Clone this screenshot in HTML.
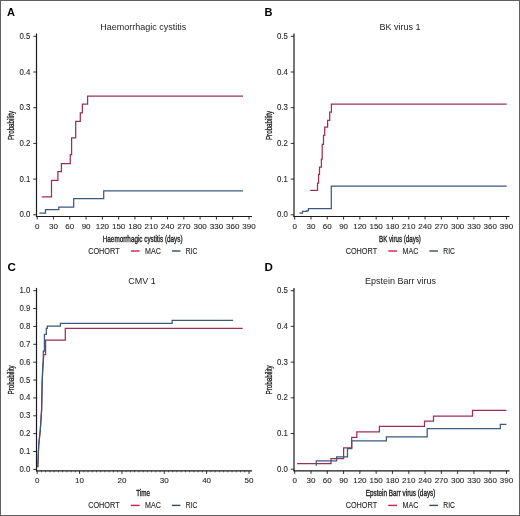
<!DOCTYPE html>
<html><head><meta charset="utf-8"><style>
html,body{margin:0;padding:0;background:#fff;}
svg{display:block;will-change:transform;}
text{font-family:"Liberation Sans", sans-serif;}
</style></head><body>
<svg width="520" height="516" viewBox="0 0 520 516">
<rect x="0" y="0" width="520" height="516" fill="#fff"/>
<text x="7" y="16" font-size="11" font-weight="bold" fill="#000">A</text>
<text x="143.3" y="30.1" font-size="9.5" text-anchor="middle" textLength="86" lengthAdjust="spacingAndGlyphs" fill="#1e1e1e">Haemorrhagic cystitis</text>
<line x1="36.5" y1="33.5" x2="36.5" y2="216.9" stroke="#1a1a1a" stroke-width="1.2"/>
<line x1="36" y1="216.5" x2="252" y2="216.5" stroke="#1a1a1a" stroke-width="1.2"/>
<line x1="33.3" y1="214.8" x2="36.5" y2="214.8" stroke="#1a1a1a" stroke-width="0.9"/>
<text x="30.4" y="217.35" font-size="8.4" text-anchor="end" textLength="10.9" lengthAdjust="spacingAndGlyphs" fill="#262626" stroke="#262626" stroke-width="0.1">0.0</text>
<line x1="33.3" y1="179.1" x2="36.5" y2="179.1" stroke="#1a1a1a" stroke-width="0.9"/>
<text x="30.4" y="181.65" font-size="8.4" text-anchor="end" textLength="10.9" lengthAdjust="spacingAndGlyphs" fill="#262626" stroke="#262626" stroke-width="0.1">0.1</text>
<line x1="33.3" y1="143.4" x2="36.5" y2="143.4" stroke="#1a1a1a" stroke-width="0.9"/>
<text x="30.4" y="145.95" font-size="8.4" text-anchor="end" textLength="10.9" lengthAdjust="spacingAndGlyphs" fill="#262626" stroke="#262626" stroke-width="0.1">0.2</text>
<line x1="33.3" y1="107.7" x2="36.5" y2="107.7" stroke="#1a1a1a" stroke-width="0.9"/>
<text x="30.4" y="110.25" font-size="8.4" text-anchor="end" textLength="10.9" lengthAdjust="spacingAndGlyphs" fill="#262626" stroke="#262626" stroke-width="0.1">0.3</text>
<line x1="33.3" y1="72" x2="36.5" y2="72" stroke="#1a1a1a" stroke-width="0.9"/>
<text x="30.4" y="74.55" font-size="8.4" text-anchor="end" textLength="10.9" lengthAdjust="spacingAndGlyphs" fill="#262626" stroke="#262626" stroke-width="0.1">0.4</text>
<line x1="33.3" y1="36.3" x2="36.5" y2="36.3" stroke="#1a1a1a" stroke-width="0.9"/>
<text x="30.4" y="38.85" font-size="8.4" text-anchor="end" textLength="10.9" lengthAdjust="spacingAndGlyphs" fill="#262626" stroke="#262626" stroke-width="0.1">0.5</text>
<line x1="37.2" y1="216.5" x2="37.2" y2="219.5" stroke="#1a1a1a" stroke-width="0.9"/>
<text x="37.2" y="229" font-size="8" text-anchor="middle" fill="#262626" stroke="#262626" stroke-width="0.1">0</text>
<line x1="53.49" y1="216.5" x2="53.49" y2="219.5" stroke="#1a1a1a" stroke-width="0.9"/>
<text x="53.49" y="229" font-size="8" text-anchor="middle" fill="#262626" stroke="#262626" stroke-width="0.1">30</text>
<line x1="69.78" y1="216.5" x2="69.78" y2="219.5" stroke="#1a1a1a" stroke-width="0.9"/>
<text x="69.78" y="229" font-size="8" text-anchor="middle" fill="#262626" stroke="#262626" stroke-width="0.1">60</text>
<line x1="86.08" y1="216.5" x2="86.08" y2="219.5" stroke="#1a1a1a" stroke-width="0.9"/>
<text x="86.08" y="229" font-size="8" text-anchor="middle" fill="#262626" stroke="#262626" stroke-width="0.1">90</text>
<line x1="102.37" y1="216.5" x2="102.37" y2="219.5" stroke="#1a1a1a" stroke-width="0.9"/>
<text x="102.37" y="229" font-size="8" text-anchor="middle" fill="#262626" stroke="#262626" stroke-width="0.1">120</text>
<line x1="118.66" y1="216.5" x2="118.66" y2="219.5" stroke="#1a1a1a" stroke-width="0.9"/>
<text x="118.66" y="229" font-size="8" text-anchor="middle" fill="#262626" stroke="#262626" stroke-width="0.1">150</text>
<line x1="134.95" y1="216.5" x2="134.95" y2="219.5" stroke="#1a1a1a" stroke-width="0.9"/>
<text x="134.95" y="229" font-size="8" text-anchor="middle" fill="#262626" stroke="#262626" stroke-width="0.1">180</text>
<line x1="151.25" y1="216.5" x2="151.25" y2="219.5" stroke="#1a1a1a" stroke-width="0.9"/>
<text x="151.25" y="229" font-size="8" text-anchor="middle" fill="#262626" stroke="#262626" stroke-width="0.1">210</text>
<line x1="167.54" y1="216.5" x2="167.54" y2="219.5" stroke="#1a1a1a" stroke-width="0.9"/>
<text x="167.54" y="229" font-size="8" text-anchor="middle" fill="#262626" stroke="#262626" stroke-width="0.1">240</text>
<line x1="183.83" y1="216.5" x2="183.83" y2="219.5" stroke="#1a1a1a" stroke-width="0.9"/>
<text x="183.83" y="229" font-size="8" text-anchor="middle" fill="#262626" stroke="#262626" stroke-width="0.1">270</text>
<line x1="200.12" y1="216.5" x2="200.12" y2="219.5" stroke="#1a1a1a" stroke-width="0.9"/>
<text x="200.12" y="229" font-size="8" text-anchor="middle" fill="#262626" stroke="#262626" stroke-width="0.1">300</text>
<line x1="216.42" y1="216.5" x2="216.42" y2="219.5" stroke="#1a1a1a" stroke-width="0.9"/>
<text x="216.42" y="229" font-size="8" text-anchor="middle" fill="#262626" stroke="#262626" stroke-width="0.1">330</text>
<line x1="232.71" y1="216.5" x2="232.71" y2="219.5" stroke="#1a1a1a" stroke-width="0.9"/>
<text x="232.71" y="229" font-size="8" text-anchor="middle" fill="#262626" stroke="#262626" stroke-width="0.1">360</text>
<line x1="249" y1="216.5" x2="249" y2="219.5" stroke="#1a1a1a" stroke-width="0.9"/>
<text x="249" y="229" font-size="8" text-anchor="middle" fill="#262626" stroke="#262626" stroke-width="0.1">390</text>
<text x="102.8" y="241.7" font-size="8.6" textLength="79.7" lengthAdjust="spacingAndGlyphs" fill="#222" stroke="#222" stroke-width="0.35">Haemorrhagic cystitis (days)</text>
<text transform="translate(14.2,125.5) rotate(-90)" x="-14.55" y="0" font-size="8.4" textLength="29.1" lengthAdjust="spacingAndGlyphs" fill="#222" stroke="#222" stroke-width="0.3">Probability</text>
<text x="88.2" y="253.85" font-size="8.6" textLength="31.4" lengthAdjust="spacingAndGlyphs" fill="#262626" stroke="#262626" stroke-width="0.12">COHORT</text>
<line x1="130.8" y1="251" x2="139.6" y2="251" stroke="#c4224f" stroke-width="1.4"/>
<text x="145" y="253.85" font-size="8.6" textLength="15.8" lengthAdjust="spacingAndGlyphs" fill="#262626" stroke="#262626" stroke-width="0.12">MAC</text>
<line x1="171.9" y1="251" x2="180.4" y2="251" stroke="#3a4a60" stroke-width="1.4"/>
<text x="185.8" y="253.85" font-size="8.6" textLength="11.6" lengthAdjust="spacingAndGlyphs" fill="#262626" stroke="#262626" stroke-width="0.12">RIC</text>
<text x="264.5" y="16" font-size="11" font-weight="bold" fill="#000">B</text>
<text x="400" y="30.1" font-size="9.5" text-anchor="middle" textLength="41" lengthAdjust="spacingAndGlyphs" fill="#1e1e1e">BK virus 1</text>
<line x1="294" y1="33.5" x2="294" y2="216.9" stroke="#1a1a1a" stroke-width="1.2"/>
<line x1="293.5" y1="216.5" x2="509.5" y2="216.5" stroke="#1a1a1a" stroke-width="1.2"/>
<line x1="290.8" y1="214.8" x2="294" y2="214.8" stroke="#1a1a1a" stroke-width="0.9"/>
<text x="287.9" y="217.35" font-size="8.4" text-anchor="end" textLength="10.9" lengthAdjust="spacingAndGlyphs" fill="#262626" stroke="#262626" stroke-width="0.1">0.0</text>
<line x1="290.8" y1="179.1" x2="294" y2="179.1" stroke="#1a1a1a" stroke-width="0.9"/>
<text x="287.9" y="181.65" font-size="8.4" text-anchor="end" textLength="10.9" lengthAdjust="spacingAndGlyphs" fill="#262626" stroke="#262626" stroke-width="0.1">0.1</text>
<line x1="290.8" y1="143.4" x2="294" y2="143.4" stroke="#1a1a1a" stroke-width="0.9"/>
<text x="287.9" y="145.95" font-size="8.4" text-anchor="end" textLength="10.9" lengthAdjust="spacingAndGlyphs" fill="#262626" stroke="#262626" stroke-width="0.1">0.2</text>
<line x1="290.8" y1="107.7" x2="294" y2="107.7" stroke="#1a1a1a" stroke-width="0.9"/>
<text x="287.9" y="110.25" font-size="8.4" text-anchor="end" textLength="10.9" lengthAdjust="spacingAndGlyphs" fill="#262626" stroke="#262626" stroke-width="0.1">0.3</text>
<line x1="290.8" y1="72" x2="294" y2="72" stroke="#1a1a1a" stroke-width="0.9"/>
<text x="287.9" y="74.55" font-size="8.4" text-anchor="end" textLength="10.9" lengthAdjust="spacingAndGlyphs" fill="#262626" stroke="#262626" stroke-width="0.1">0.4</text>
<line x1="290.8" y1="36.3" x2="294" y2="36.3" stroke="#1a1a1a" stroke-width="0.9"/>
<text x="287.9" y="38.85" font-size="8.4" text-anchor="end" textLength="10.9" lengthAdjust="spacingAndGlyphs" fill="#262626" stroke="#262626" stroke-width="0.1">0.5</text>
<line x1="294.7" y1="216.5" x2="294.7" y2="219.5" stroke="#1a1a1a" stroke-width="0.9"/>
<text x="294.7" y="229" font-size="8" text-anchor="middle" fill="#262626" stroke="#262626" stroke-width="0.1">0</text>
<line x1="310.99" y1="216.5" x2="310.99" y2="219.5" stroke="#1a1a1a" stroke-width="0.9"/>
<text x="310.99" y="229" font-size="8" text-anchor="middle" fill="#262626" stroke="#262626" stroke-width="0.1">30</text>
<line x1="327.28" y1="216.5" x2="327.28" y2="219.5" stroke="#1a1a1a" stroke-width="0.9"/>
<text x="327.28" y="229" font-size="8" text-anchor="middle" fill="#262626" stroke="#262626" stroke-width="0.1">60</text>
<line x1="343.58" y1="216.5" x2="343.58" y2="219.5" stroke="#1a1a1a" stroke-width="0.9"/>
<text x="343.58" y="229" font-size="8" text-anchor="middle" fill="#262626" stroke="#262626" stroke-width="0.1">90</text>
<line x1="359.87" y1="216.5" x2="359.87" y2="219.5" stroke="#1a1a1a" stroke-width="0.9"/>
<text x="359.87" y="229" font-size="8" text-anchor="middle" fill="#262626" stroke="#262626" stroke-width="0.1">120</text>
<line x1="376.16" y1="216.5" x2="376.16" y2="219.5" stroke="#1a1a1a" stroke-width="0.9"/>
<text x="376.16" y="229" font-size="8" text-anchor="middle" fill="#262626" stroke="#262626" stroke-width="0.1">150</text>
<line x1="392.45" y1="216.5" x2="392.45" y2="219.5" stroke="#1a1a1a" stroke-width="0.9"/>
<text x="392.45" y="229" font-size="8" text-anchor="middle" fill="#262626" stroke="#262626" stroke-width="0.1">180</text>
<line x1="408.75" y1="216.5" x2="408.75" y2="219.5" stroke="#1a1a1a" stroke-width="0.9"/>
<text x="408.75" y="229" font-size="8" text-anchor="middle" fill="#262626" stroke="#262626" stroke-width="0.1">210</text>
<line x1="425.04" y1="216.5" x2="425.04" y2="219.5" stroke="#1a1a1a" stroke-width="0.9"/>
<text x="425.04" y="229" font-size="8" text-anchor="middle" fill="#262626" stroke="#262626" stroke-width="0.1">240</text>
<line x1="441.33" y1="216.5" x2="441.33" y2="219.5" stroke="#1a1a1a" stroke-width="0.9"/>
<text x="441.33" y="229" font-size="8" text-anchor="middle" fill="#262626" stroke="#262626" stroke-width="0.1">270</text>
<line x1="457.62" y1="216.5" x2="457.62" y2="219.5" stroke="#1a1a1a" stroke-width="0.9"/>
<text x="457.62" y="229" font-size="8" text-anchor="middle" fill="#262626" stroke="#262626" stroke-width="0.1">300</text>
<line x1="473.92" y1="216.5" x2="473.92" y2="219.5" stroke="#1a1a1a" stroke-width="0.9"/>
<text x="473.92" y="229" font-size="8" text-anchor="middle" fill="#262626" stroke="#262626" stroke-width="0.1">330</text>
<line x1="490.21" y1="216.5" x2="490.21" y2="219.5" stroke="#1a1a1a" stroke-width="0.9"/>
<text x="490.21" y="229" font-size="8" text-anchor="middle" fill="#262626" stroke="#262626" stroke-width="0.1">360</text>
<line x1="506.5" y1="216.5" x2="506.5" y2="219.5" stroke="#1a1a1a" stroke-width="0.9"/>
<text x="506.5" y="229" font-size="8" text-anchor="middle" fill="#262626" stroke="#262626" stroke-width="0.1">390</text>
<text x="379.1" y="241.7" font-size="8.6" textLength="41.8" lengthAdjust="spacingAndGlyphs" fill="#222" stroke="#222" stroke-width="0.35">BK virus (days)</text>
<text transform="translate(271.7,125.5) rotate(-90)" x="-14.55" y="0" font-size="8.4" textLength="29.1" lengthAdjust="spacingAndGlyphs" fill="#222" stroke="#222" stroke-width="0.3">Probability</text>
<text x="345.7" y="253.85" font-size="8.6" textLength="31.4" lengthAdjust="spacingAndGlyphs" fill="#262626" stroke="#262626" stroke-width="0.12">COHORT</text>
<line x1="388.3" y1="251" x2="397.1" y2="251" stroke="#c4224f" stroke-width="1.4"/>
<text x="402.5" y="253.85" font-size="8.6" textLength="15.8" lengthAdjust="spacingAndGlyphs" fill="#262626" stroke="#262626" stroke-width="0.12">MAC</text>
<line x1="429.4" y1="251" x2="437.9" y2="251" stroke="#3a4a60" stroke-width="1.4"/>
<text x="443.3" y="253.85" font-size="8.6" textLength="11.6" lengthAdjust="spacingAndGlyphs" fill="#262626" stroke="#262626" stroke-width="0.12">RIC</text>
<text x="7.4" y="270.9" font-size="11.6" font-weight="bold" fill="#000">C</text>
<text x="142" y="284.2" font-size="9.5" text-anchor="middle" textLength="27.5" lengthAdjust="spacingAndGlyphs" fill="#1e1e1e">CMV 1</text>
<line x1="36.5" y1="287.9" x2="36.5" y2="471.3" stroke="#1a1a1a" stroke-width="1.2"/>
<line x1="36" y1="470.9" x2="252" y2="470.9" stroke="#1a1a1a" stroke-width="1.2"/>
<line x1="33.3" y1="469.4" x2="36.5" y2="469.4" stroke="#1a1a1a" stroke-width="0.9"/>
<text x="30.4" y="471.95" font-size="8.4" text-anchor="end" textLength="10.9" lengthAdjust="spacingAndGlyphs" fill="#262626" stroke="#262626" stroke-width="0.1">0.0</text>
<line x1="33.3" y1="451.53" x2="36.5" y2="451.53" stroke="#1a1a1a" stroke-width="0.9"/>
<text x="30.4" y="454.08" font-size="8.4" text-anchor="end" textLength="10.9" lengthAdjust="spacingAndGlyphs" fill="#262626" stroke="#262626" stroke-width="0.1">0.1</text>
<line x1="33.3" y1="433.66" x2="36.5" y2="433.66" stroke="#1a1a1a" stroke-width="0.9"/>
<text x="30.4" y="436.21" font-size="8.4" text-anchor="end" textLength="10.9" lengthAdjust="spacingAndGlyphs" fill="#262626" stroke="#262626" stroke-width="0.1">0.2</text>
<line x1="33.3" y1="415.79" x2="36.5" y2="415.79" stroke="#1a1a1a" stroke-width="0.9"/>
<text x="30.4" y="418.34" font-size="8.4" text-anchor="end" textLength="10.9" lengthAdjust="spacingAndGlyphs" fill="#262626" stroke="#262626" stroke-width="0.1">0.3</text>
<line x1="33.3" y1="397.92" x2="36.5" y2="397.92" stroke="#1a1a1a" stroke-width="0.9"/>
<text x="30.4" y="400.47" font-size="8.4" text-anchor="end" textLength="10.9" lengthAdjust="spacingAndGlyphs" fill="#262626" stroke="#262626" stroke-width="0.1">0.4</text>
<line x1="33.3" y1="380.05" x2="36.5" y2="380.05" stroke="#1a1a1a" stroke-width="0.9"/>
<text x="30.4" y="382.6" font-size="8.4" text-anchor="end" textLength="10.9" lengthAdjust="spacingAndGlyphs" fill="#262626" stroke="#262626" stroke-width="0.1">0.5</text>
<line x1="33.3" y1="362.18" x2="36.5" y2="362.18" stroke="#1a1a1a" stroke-width="0.9"/>
<text x="30.4" y="364.73" font-size="8.4" text-anchor="end" textLength="10.9" lengthAdjust="spacingAndGlyphs" fill="#262626" stroke="#262626" stroke-width="0.1">0.6</text>
<line x1="33.3" y1="344.31" x2="36.5" y2="344.31" stroke="#1a1a1a" stroke-width="0.9"/>
<text x="30.4" y="346.86" font-size="8.4" text-anchor="end" textLength="10.9" lengthAdjust="spacingAndGlyphs" fill="#262626" stroke="#262626" stroke-width="0.1">0.7</text>
<line x1="33.3" y1="326.44" x2="36.5" y2="326.44" stroke="#1a1a1a" stroke-width="0.9"/>
<text x="30.4" y="328.99" font-size="8.4" text-anchor="end" textLength="10.9" lengthAdjust="spacingAndGlyphs" fill="#262626" stroke="#262626" stroke-width="0.1">0.8</text>
<line x1="33.3" y1="308.57" x2="36.5" y2="308.57" stroke="#1a1a1a" stroke-width="0.9"/>
<text x="30.4" y="311.12" font-size="8.4" text-anchor="end" textLength="10.9" lengthAdjust="spacingAndGlyphs" fill="#262626" stroke="#262626" stroke-width="0.1">0.9</text>
<line x1="33.3" y1="290.7" x2="36.5" y2="290.7" stroke="#1a1a1a" stroke-width="0.9"/>
<text x="30.4" y="293.25" font-size="8.4" text-anchor="end" textLength="10.9" lengthAdjust="spacingAndGlyphs" fill="#262626" stroke="#262626" stroke-width="0.1">1.0</text>
<line x1="37.2" y1="470.9" x2="37.2" y2="473.9" stroke="#1a1a1a" stroke-width="0.9"/>
<text x="37.2" y="483.4" font-size="8" text-anchor="middle" fill="#262626" stroke="#262626" stroke-width="0.1">0</text>
<line x1="79.56" y1="470.9" x2="79.56" y2="473.9" stroke="#1a1a1a" stroke-width="0.9"/>
<text x="79.56" y="483.4" font-size="8" text-anchor="middle" fill="#262626" stroke="#262626" stroke-width="0.1">10</text>
<line x1="121.92" y1="470.9" x2="121.92" y2="473.9" stroke="#1a1a1a" stroke-width="0.9"/>
<text x="121.92" y="483.4" font-size="8" text-anchor="middle" fill="#262626" stroke="#262626" stroke-width="0.1">20</text>
<line x1="164.28" y1="470.9" x2="164.28" y2="473.9" stroke="#1a1a1a" stroke-width="0.9"/>
<text x="164.28" y="483.4" font-size="8" text-anchor="middle" fill="#262626" stroke="#262626" stroke-width="0.1">30</text>
<line x1="206.64" y1="470.9" x2="206.64" y2="473.9" stroke="#1a1a1a" stroke-width="0.9"/>
<text x="206.64" y="483.4" font-size="8" text-anchor="middle" fill="#262626" stroke="#262626" stroke-width="0.1">40</text>
<line x1="249" y1="470.9" x2="249" y2="473.9" stroke="#1a1a1a" stroke-width="0.9"/>
<text x="249" y="483.4" font-size="8" text-anchor="middle" fill="#262626" stroke="#262626" stroke-width="0.1">50</text>
<line x1="41.44" y1="470.9" x2="41.44" y2="472.4" stroke="#1a1a1a" stroke-width="0.6"/>
<line x1="45.67" y1="470.9" x2="45.67" y2="472.4" stroke="#1a1a1a" stroke-width="0.6"/>
<line x1="49.91" y1="470.9" x2="49.91" y2="472.4" stroke="#1a1a1a" stroke-width="0.6"/>
<line x1="54.14" y1="470.9" x2="54.14" y2="472.4" stroke="#1a1a1a" stroke-width="0.6"/>
<line x1="58.38" y1="470.9" x2="58.38" y2="472.4" stroke="#1a1a1a" stroke-width="0.6"/>
<line x1="62.62" y1="470.9" x2="62.62" y2="472.4" stroke="#1a1a1a" stroke-width="0.6"/>
<line x1="66.85" y1="470.9" x2="66.85" y2="472.4" stroke="#1a1a1a" stroke-width="0.6"/>
<line x1="71.09" y1="470.9" x2="71.09" y2="472.4" stroke="#1a1a1a" stroke-width="0.6"/>
<line x1="75.32" y1="470.9" x2="75.32" y2="472.4" stroke="#1a1a1a" stroke-width="0.6"/>
<line x1="83.8" y1="470.9" x2="83.8" y2="472.4" stroke="#1a1a1a" stroke-width="0.6"/>
<line x1="88.03" y1="470.9" x2="88.03" y2="472.4" stroke="#1a1a1a" stroke-width="0.6"/>
<line x1="92.27" y1="470.9" x2="92.27" y2="472.4" stroke="#1a1a1a" stroke-width="0.6"/>
<line x1="96.5" y1="470.9" x2="96.5" y2="472.4" stroke="#1a1a1a" stroke-width="0.6"/>
<line x1="100.74" y1="470.9" x2="100.74" y2="472.4" stroke="#1a1a1a" stroke-width="0.6"/>
<line x1="104.98" y1="470.9" x2="104.98" y2="472.4" stroke="#1a1a1a" stroke-width="0.6"/>
<line x1="109.21" y1="470.9" x2="109.21" y2="472.4" stroke="#1a1a1a" stroke-width="0.6"/>
<line x1="113.45" y1="470.9" x2="113.45" y2="472.4" stroke="#1a1a1a" stroke-width="0.6"/>
<line x1="117.68" y1="470.9" x2="117.68" y2="472.4" stroke="#1a1a1a" stroke-width="0.6"/>
<line x1="126.16" y1="470.9" x2="126.16" y2="472.4" stroke="#1a1a1a" stroke-width="0.6"/>
<line x1="130.39" y1="470.9" x2="130.39" y2="472.4" stroke="#1a1a1a" stroke-width="0.6"/>
<line x1="134.63" y1="470.9" x2="134.63" y2="472.4" stroke="#1a1a1a" stroke-width="0.6"/>
<line x1="138.86" y1="470.9" x2="138.86" y2="472.4" stroke="#1a1a1a" stroke-width="0.6"/>
<line x1="143.1" y1="470.9" x2="143.1" y2="472.4" stroke="#1a1a1a" stroke-width="0.6"/>
<line x1="147.34" y1="470.9" x2="147.34" y2="472.4" stroke="#1a1a1a" stroke-width="0.6"/>
<line x1="151.57" y1="470.9" x2="151.57" y2="472.4" stroke="#1a1a1a" stroke-width="0.6"/>
<line x1="155.81" y1="470.9" x2="155.81" y2="472.4" stroke="#1a1a1a" stroke-width="0.6"/>
<line x1="160.04" y1="470.9" x2="160.04" y2="472.4" stroke="#1a1a1a" stroke-width="0.6"/>
<line x1="168.52" y1="470.9" x2="168.52" y2="472.4" stroke="#1a1a1a" stroke-width="0.6"/>
<line x1="172.75" y1="470.9" x2="172.75" y2="472.4" stroke="#1a1a1a" stroke-width="0.6"/>
<line x1="176.99" y1="470.9" x2="176.99" y2="472.4" stroke="#1a1a1a" stroke-width="0.6"/>
<line x1="181.22" y1="470.9" x2="181.22" y2="472.4" stroke="#1a1a1a" stroke-width="0.6"/>
<line x1="185.46" y1="470.9" x2="185.46" y2="472.4" stroke="#1a1a1a" stroke-width="0.6"/>
<line x1="189.7" y1="470.9" x2="189.7" y2="472.4" stroke="#1a1a1a" stroke-width="0.6"/>
<line x1="193.93" y1="470.9" x2="193.93" y2="472.4" stroke="#1a1a1a" stroke-width="0.6"/>
<line x1="198.17" y1="470.9" x2="198.17" y2="472.4" stroke="#1a1a1a" stroke-width="0.6"/>
<line x1="202.4" y1="470.9" x2="202.4" y2="472.4" stroke="#1a1a1a" stroke-width="0.6"/>
<line x1="210.88" y1="470.9" x2="210.88" y2="472.4" stroke="#1a1a1a" stroke-width="0.6"/>
<line x1="215.11" y1="470.9" x2="215.11" y2="472.4" stroke="#1a1a1a" stroke-width="0.6"/>
<line x1="219.35" y1="470.9" x2="219.35" y2="472.4" stroke="#1a1a1a" stroke-width="0.6"/>
<line x1="223.58" y1="470.9" x2="223.58" y2="472.4" stroke="#1a1a1a" stroke-width="0.6"/>
<line x1="227.82" y1="470.9" x2="227.82" y2="472.4" stroke="#1a1a1a" stroke-width="0.6"/>
<line x1="232.06" y1="470.9" x2="232.06" y2="472.4" stroke="#1a1a1a" stroke-width="0.6"/>
<line x1="236.29" y1="470.9" x2="236.29" y2="472.4" stroke="#1a1a1a" stroke-width="0.6"/>
<line x1="240.53" y1="470.9" x2="240.53" y2="472.4" stroke="#1a1a1a" stroke-width="0.6"/>
<line x1="244.76" y1="470.9" x2="244.76" y2="472.4" stroke="#1a1a1a" stroke-width="0.6"/>
<text x="136.2" y="496.1" font-size="8.6" textLength="13.7" lengthAdjust="spacingAndGlyphs" fill="#222" stroke="#222" stroke-width="0.35">Time</text>
<text transform="translate(14.2,379.9) rotate(-90)" x="-14.55" y="0" font-size="8.4" textLength="29.1" lengthAdjust="spacingAndGlyphs" fill="#222" stroke="#222" stroke-width="0.3">Probability</text>
<text x="88.2" y="508.25" font-size="8.6" textLength="31.4" lengthAdjust="spacingAndGlyphs" fill="#262626" stroke="#262626" stroke-width="0.12">COHORT</text>
<line x1="130.8" y1="505.4" x2="139.6" y2="505.4" stroke="#c4224f" stroke-width="1.4"/>
<text x="145" y="508.25" font-size="8.6" textLength="15.8" lengthAdjust="spacingAndGlyphs" fill="#262626" stroke="#262626" stroke-width="0.12">MAC</text>
<line x1="171.9" y1="505.4" x2="180.4" y2="505.4" stroke="#3a4a60" stroke-width="1.4"/>
<text x="185.8" y="508.25" font-size="8.6" textLength="11.6" lengthAdjust="spacingAndGlyphs" fill="#262626" stroke="#262626" stroke-width="0.12">RIC</text>
<text x="264.5" y="270.9" font-size="11.6" font-weight="bold" fill="#000">D</text>
<text x="400.4" y="284.2" font-size="9.5" text-anchor="middle" textLength="71" lengthAdjust="spacingAndGlyphs" fill="#1e1e1e">Epstein Barr virus</text>
<line x1="294" y1="287.9" x2="294" y2="471.3" stroke="#1a1a1a" stroke-width="1.2"/>
<line x1="293.5" y1="470.9" x2="509.5" y2="470.9" stroke="#1a1a1a" stroke-width="1.2"/>
<line x1="290.8" y1="469.2" x2="294" y2="469.2" stroke="#1a1a1a" stroke-width="0.9"/>
<text x="287.9" y="471.75" font-size="8.4" text-anchor="end" textLength="10.9" lengthAdjust="spacingAndGlyphs" fill="#262626" stroke="#262626" stroke-width="0.1">0.0</text>
<line x1="290.8" y1="433.5" x2="294" y2="433.5" stroke="#1a1a1a" stroke-width="0.9"/>
<text x="287.9" y="436.05" font-size="8.4" text-anchor="end" textLength="10.9" lengthAdjust="spacingAndGlyphs" fill="#262626" stroke="#262626" stroke-width="0.1">0.1</text>
<line x1="290.8" y1="397.8" x2="294" y2="397.8" stroke="#1a1a1a" stroke-width="0.9"/>
<text x="287.9" y="400.35" font-size="8.4" text-anchor="end" textLength="10.9" lengthAdjust="spacingAndGlyphs" fill="#262626" stroke="#262626" stroke-width="0.1">0.2</text>
<line x1="290.8" y1="362.1" x2="294" y2="362.1" stroke="#1a1a1a" stroke-width="0.9"/>
<text x="287.9" y="364.65" font-size="8.4" text-anchor="end" textLength="10.9" lengthAdjust="spacingAndGlyphs" fill="#262626" stroke="#262626" stroke-width="0.1">0.3</text>
<line x1="290.8" y1="326.4" x2="294" y2="326.4" stroke="#1a1a1a" stroke-width="0.9"/>
<text x="287.9" y="328.95" font-size="8.4" text-anchor="end" textLength="10.9" lengthAdjust="spacingAndGlyphs" fill="#262626" stroke="#262626" stroke-width="0.1">0.4</text>
<line x1="290.8" y1="290.7" x2="294" y2="290.7" stroke="#1a1a1a" stroke-width="0.9"/>
<text x="287.9" y="293.25" font-size="8.4" text-anchor="end" textLength="10.9" lengthAdjust="spacingAndGlyphs" fill="#262626" stroke="#262626" stroke-width="0.1">0.5</text>
<line x1="294.7" y1="470.9" x2="294.7" y2="473.9" stroke="#1a1a1a" stroke-width="0.9"/>
<text x="294.7" y="483.4" font-size="8" text-anchor="middle" fill="#262626" stroke="#262626" stroke-width="0.1">0</text>
<line x1="310.99" y1="470.9" x2="310.99" y2="473.9" stroke="#1a1a1a" stroke-width="0.9"/>
<text x="310.99" y="483.4" font-size="8" text-anchor="middle" fill="#262626" stroke="#262626" stroke-width="0.1">30</text>
<line x1="327.28" y1="470.9" x2="327.28" y2="473.9" stroke="#1a1a1a" stroke-width="0.9"/>
<text x="327.28" y="483.4" font-size="8" text-anchor="middle" fill="#262626" stroke="#262626" stroke-width="0.1">60</text>
<line x1="343.58" y1="470.9" x2="343.58" y2="473.9" stroke="#1a1a1a" stroke-width="0.9"/>
<text x="343.58" y="483.4" font-size="8" text-anchor="middle" fill="#262626" stroke="#262626" stroke-width="0.1">90</text>
<line x1="359.87" y1="470.9" x2="359.87" y2="473.9" stroke="#1a1a1a" stroke-width="0.9"/>
<text x="359.87" y="483.4" font-size="8" text-anchor="middle" fill="#262626" stroke="#262626" stroke-width="0.1">120</text>
<line x1="376.16" y1="470.9" x2="376.16" y2="473.9" stroke="#1a1a1a" stroke-width="0.9"/>
<text x="376.16" y="483.4" font-size="8" text-anchor="middle" fill="#262626" stroke="#262626" stroke-width="0.1">150</text>
<line x1="392.45" y1="470.9" x2="392.45" y2="473.9" stroke="#1a1a1a" stroke-width="0.9"/>
<text x="392.45" y="483.4" font-size="8" text-anchor="middle" fill="#262626" stroke="#262626" stroke-width="0.1">180</text>
<line x1="408.75" y1="470.9" x2="408.75" y2="473.9" stroke="#1a1a1a" stroke-width="0.9"/>
<text x="408.75" y="483.4" font-size="8" text-anchor="middle" fill="#262626" stroke="#262626" stroke-width="0.1">210</text>
<line x1="425.04" y1="470.9" x2="425.04" y2="473.9" stroke="#1a1a1a" stroke-width="0.9"/>
<text x="425.04" y="483.4" font-size="8" text-anchor="middle" fill="#262626" stroke="#262626" stroke-width="0.1">240</text>
<line x1="441.33" y1="470.9" x2="441.33" y2="473.9" stroke="#1a1a1a" stroke-width="0.9"/>
<text x="441.33" y="483.4" font-size="8" text-anchor="middle" fill="#262626" stroke="#262626" stroke-width="0.1">270</text>
<line x1="457.62" y1="470.9" x2="457.62" y2="473.9" stroke="#1a1a1a" stroke-width="0.9"/>
<text x="457.62" y="483.4" font-size="8" text-anchor="middle" fill="#262626" stroke="#262626" stroke-width="0.1">300</text>
<line x1="473.92" y1="470.9" x2="473.92" y2="473.9" stroke="#1a1a1a" stroke-width="0.9"/>
<text x="473.92" y="483.4" font-size="8" text-anchor="middle" fill="#262626" stroke="#262626" stroke-width="0.1">330</text>
<line x1="490.21" y1="470.9" x2="490.21" y2="473.9" stroke="#1a1a1a" stroke-width="0.9"/>
<text x="490.21" y="483.4" font-size="8" text-anchor="middle" fill="#262626" stroke="#262626" stroke-width="0.1">360</text>
<line x1="506.5" y1="470.9" x2="506.5" y2="473.9" stroke="#1a1a1a" stroke-width="0.9"/>
<text x="506.5" y="483.4" font-size="8" text-anchor="middle" fill="#262626" stroke="#262626" stroke-width="0.1">390</text>
<text x="365.8" y="496.1" font-size="8.6" textLength="69.6" lengthAdjust="spacingAndGlyphs" fill="#222" stroke="#222" stroke-width="0.35">Epstein Barr virus (days)</text>
<text transform="translate(271.7,379.9) rotate(-90)" x="-14.55" y="0" font-size="8.4" textLength="29.1" lengthAdjust="spacingAndGlyphs" fill="#222" stroke="#222" stroke-width="0.3">Probability</text>
<text x="345.7" y="508.25" font-size="8.6" textLength="31.4" lengthAdjust="spacingAndGlyphs" fill="#262626" stroke="#262626" stroke-width="0.12">COHORT</text>
<line x1="388.3" y1="505.4" x2="397.1" y2="505.4" stroke="#c4224f" stroke-width="1.4"/>
<text x="402.5" y="508.25" font-size="8.6" textLength="15.8" lengthAdjust="spacingAndGlyphs" fill="#262626" stroke="#262626" stroke-width="0.12">MAC</text>
<line x1="429.4" y1="505.4" x2="437.9" y2="505.4" stroke="#3a4a60" stroke-width="1.4"/>
<text x="443.3" y="508.25" font-size="8.6" textLength="11.6" lengthAdjust="spacingAndGlyphs" fill="#262626" stroke="#262626" stroke-width="0.12">RIC</text>
<path d="M41.8,196.8H51.5V180.4H57.9V171.6H61.4V163.5H70.3V154.6H71.6V137.9H75.7V121.3H80.3V112.9H82.4V104.2H87.6V96.1H243" fill="none" stroke="#9c2f56" stroke-width="1.25" stroke-linejoin="miter" stroke-linecap="butt"/>
<path d="M39.4,213.1H45.5V209.7H58.8V207.2H73.7V198.5H103.7V190.9H243" fill="none" stroke="#3b5a7e" stroke-width="1.25" stroke-linejoin="miter" stroke-linecap="butt"/>
<path d="M310.2,190.4H317.5V183.2H318.6V174.3H319.5V167.2H321.4V159.2H322.2V144.3H323.5V135.3H324.7V127H327.6V120.3H329.7V112.1H331.4V104H506.7" fill="none" stroke="#9c2f56" stroke-width="1.25" stroke-linejoin="miter" stroke-linecap="butt"/>
<path d="M299.3,213.2H302.5V211.3H307V210.5H308.4V208.7H331.3V186H506.7" fill="none" stroke="#3b5a7e" stroke-width="1.25" stroke-linejoin="miter" stroke-linecap="butt"/>
<path d="M37.3,466.6H37.8L38.7,445L40.3,430L41.6,410L42.1,385L42.7,370L43.4,360L43.8,354.5H45.6V340.2H65.3V328.4H242.7" fill="none" stroke="#9c2f56" stroke-width="1.25" stroke-linejoin="miter" stroke-linecap="butt"/>
<path d="M37.3,466.6H37.8L38.7,445L40.3,430L41.6,410L42.1,385L42.6,370L43.3,360L43.3,351H44.4V334.4H46.3V328.3H47.3V326.2H60.4V323.4H172.1V320.3H233.1" fill="none" stroke="#3b5a7e" stroke-width="1.25" stroke-linejoin="miter" stroke-linecap="butt"/>
<path d="M297.1,463.6H331V458.5H343.6V447.9H351.7V437.4H356.8V431.8H379.4V426.4H424.5V421.1H433.5V416.1H472.5V410.3H506.4" fill="none" stroke="#9c2f56" stroke-width="1.25" stroke-linejoin="miter" stroke-linecap="butt"/>
<path d="M316.3,465.8V460.9H336.6V456.8H347.5V448.6H351.7V440.8H386.4V436.8H427.2V428.5H500.3V424.4H506.4" fill="none" stroke="#3b5a7e" stroke-width="1.25" stroke-linejoin="miter" stroke-linecap="butt"/>
<rect x="0.5" y="0.5" width="519" height="515" fill="none" stroke="#606060" stroke-width="1"/>
</svg>
</body></html>
